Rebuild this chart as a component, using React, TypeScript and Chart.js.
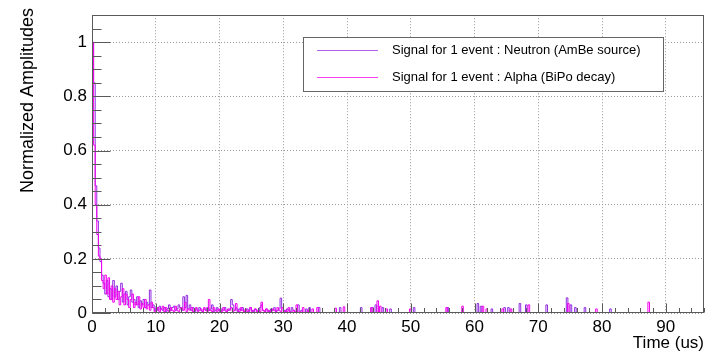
import { useEffect, useRef } from 'react';
import { Chart, registerables } from 'chart.js';

Chart.register(...registerables);

// ---- data ----
const BIN_US = 0.25; // sampling bin of the dense early part, microseconds

// Neutron (AmBe source), amplitudes for t = 0, 0.25, ... 35.75 us
const neutronEarly = [
  1.0, 0.85, 0.47, 0.34, 0.24, 0.19, 0.14, 0.11,
  0.07, 0.12, 0.06, 0.09, 0.05, 0.12, 0.06, 0.1,
  0.05, 0.08, 0.11, 0.04, 0.07, 0.08, 0.03, 0.06,
  0.085, 0.04, 0.05, 0.03, 0.06, 0.02, 0.045, 0.03,
  0.05, 0.02, 0.04, 0.03, 0.085, 0.02, 0.03, 0.01,
  0.02, 0.01, 0.025, 0.015, 0.01, 0.02, 0.005, 0.015,
  0.03, 0.01, 0.02, 0.025, 0.01, 0.015, 0.03, 0.02,
  0.01, 0.06, 0.02, 0.065, 0.015, 0.03, 0.01, 0.02,
  0.005, 0.015, 0.01, 0.02, 0.01, 0.005, 0.015, 0.01,
  0.02, 0.01, 0.015, 0.03, 0.005, 0.01, 0.02, 0.01,
  0.005, 0.015, 0.01, 0.02, 0.005, 0.01, 0.015, 0.05,
  0.03, 0.01, 0.02, 0.005, 0.015, 0.01, 0.02, 0.005,
  0.01, 0.015, 0.005, 0.02, 0.01, 0.005, 0.015, 0.01,
  0.005, 0.02, 0.03, 0.01, 0.005, 0.015, 0.01, 0.005,
  0.015, 0.01, 0.02, 0.005, 0.01, 0.015, 0.055, 0.02,
  0.01, 0.005, 0.015, 0.01, 0.005, 0.02, 0.01, 0,
  0.005, 0.03, 0, 0.01, 0, 0, 0.015, 0,
  0.02, 0, 0, 0, 0, 0, 0.02, 0,
];

// Alpha (BiPo decay), amplitudes for t = 0, 0.25, ... 35.75 us
const alphaEarly = [
  1.0, 0.62, 0.4, 0.29, 0.21, 0.2, 0.12, 0.09,
  0.14, 0.07, 0.13, 0.05, 0.1, 0.04, 0.09, 0.05,
  0.08, 0.03, 0.06, 0.09, 0.03, 0.07, 0.05, 0.02,
  0.05, 0.07, 0.02, 0.04, 0.03, 0.06, 0.015, 0.035,
  0.02, 0.05, 0.015, 0.03, 0.01, 0.04, 0.02, 0.005,
  0.01, 0.02, 0.005, 0.015, 0.025, 0.005, 0.02, 0.01,
  0.005, 0.02, 0.01, 0.005, 0.025, 0.01, 0.005, 0.015,
  0.02, 0.01, 0.04, 0.005, 0.015, 0.01, 0.02, 0.005,
  0.01, 0.02, 0.005, 0.01, 0.015, 0.005, 0.02, 0.01,
  0.005, 0.05, 0.01, 0.005, 0.02, 0.01, 0.005, 0.015,
  0.01, 0.005, 0.02, 0.01, 0.005, 0.015, 0.01, 0.02,
  0.005, 0.01, 0.035, 0.01, 0.005, 0.02, 0.01, 0.005,
  0.015, 0.005, 0.01, 0.02, 0.005, 0.01, 0.015, 0.005,
  0.01, 0.005, 0.04, 0.01, 0.005, 0.015, 0.005, 0.01,
  0.005, 0.015, 0.01, 0.005, 0.02, 0.01, 0.005, 0.02,
  0.005, 0.01, 0.005, 0.02, 0.005, 0, 0.01, 0.005,
  0.03, 0, 0.005, 0, 0.02, 0, 0, 0.01,
  0, 0, 0.015, 0, 0, 0.02, 0, 0,
];

// Isolated pulses on the flat tail (time in us, amplitude)
const neutronSpikeTimes = [38.8, 42.1, 43.9, 44.4, 45.5, 46.7, 50.4, 55.7, 60.4, 60.9, 62.6, 64.6, 65.2, 67.0, 68.0, 71.2, 74.4, 75.0, 75.7, 77.2, 81.2];
const neutronSpikeHeights = [0.02, 0.02, 0.02, 0.03, 0.02, 0.015, 0.02, 0.02, 0.035, 0.025, 0.015, 0.02, 0.02, 0.035, 0.03, 0.03, 0.056, 0.03, 0.02, 0.02, 0.015];
const alphaSpikeTimes = [38.1, 39.4, 43.7, 44.7, 45.1, 46.1, 49.8, 55.5, 58.0, 61.2, 61.8, 64.3, 65.6, 68.4, 74.6, 79.0, 87.2];
const alphaSpikeHeights = [0.018, 0.023, 0.02, 0.045, 0.025, 0.015, 0.015, 0.02, 0.025, 0.025, 0.015, 0.015, 0.015, 0.03, 0.035, 0.015, 0.04];

const TRACE_END_US = 88;

const X_MIN = 0;
const X_MAX = 96;
const Y_MIN = 0;
const Y_MAX = 1.1;

const xAxisTitle = 'Time (us)';
const yAxisTitle = 'Normalized Amplitudes';
const legendLabels = [
  'Signal for 1 event : Neutron (AmBe source)',
  'Signal for 1 event : Alpha (BiPo decay)',
];

const NEUTRON_COLOR = 'rgb(145, 45, 225)';
const ALPHA_COLOR = 'rgb(245, 0, 240)';
const FRAME_COLOR = '#5a5a5a';
const GRID_COLOR = '#9a9a9a';
const FONT = '"Liberation Sans", Arial, Helvetica, sans-serif';

function buildTrace(early: number[], spikeT: number[], spikeH: number[]) {
  const pts: { x: number; y: number }[] = early.map((y, i) => ({ x: i * BIN_US, y }));
  spikeT.forEach((t, k) => {
    pts.push({ x: t, y: spikeH[k] });
    pts.push({ x: t + BIN_US, y: 0 });
  });
  pts.push({ x: TRACE_END_US, y: 0 });
  return pts;
}

const rootStyle = {
  id: 'rootStyle',
  afterDraw(chart: any) {
    const { ctx, chartArea } = chart;
    const xs = chart.scales.x;
    const ys = chart.scales.y;
    const L = Math.round(chartArea.left) + 0.5;
    const R = Math.round(chartArea.right) - 0.5;
    const T = Math.round(chartArea.top) + 0.5;
    const B = Math.round(chartArea.bottom) - 0.5;
    ctx.save();
    ctx.strokeStyle = FRAME_COLOR;
    ctx.lineWidth = 1;
    ctx.setLineDash([]);
    ctx.strokeRect(L, T, R - L, B - T);

    // y ticks (inside, from the left edge)
    for (let k = 0; k * 0.05 <= Y_MAX + 1e-9; k++) {
      const v = k * 0.05;
      const py = Math.round(ys.getPixelForValue(v)) + 0.5;
      const len = k % 4 === 0 ? 18 : 9;
      ctx.beginPath();
      ctx.moveTo(L, py);
      ctx.lineTo(L + len, py);
      ctx.stroke();
    }
    // x ticks (inside, from the bottom edge)
    for (let k = 0; k * 2 <= X_MAX; k++) {
      const v = k * 2;
      const px = Math.round(xs.getPixelForValue(v)) + 0.5;
      const len = k % 5 === 0 ? 9 : 4.5;
      ctx.beginPath();
      ctx.moveTo(px, B);
      ctx.lineTo(px, B - len);
      ctx.stroke();
    }

    // axis titles
    ctx.fillStyle = '#000';
    ctx.font = `17px ${FONT}`;
    ctx.textAlign = 'right';
    ctx.textBaseline = 'alphabetic';
    ctx.fillText(xAxisTitle, Math.round(chartArea.right), 348);

    ctx.save();
    ctx.translate(33, 8);
    ctx.rotate(-Math.PI / 2);
    ctx.font = `18px ${FONT}`;
    ctx.textAlign = 'right';
    ctx.fillText(yAxisTitle, 0, 0);
    ctx.restore();

    // legend
    const bx = 303.5, by = 37.5, bw = 360, bh = 54;
    ctx.fillStyle = '#fff';
    ctx.fillRect(bx, by, bw, bh);
    ctx.strokeStyle = '#666';
    ctx.strokeRect(bx, by, bw, bh);
    const rows = [50.5, 77.5];
    const cols = [NEUTRON_COLOR, ALPHA_COLOR];
    ctx.font = `13px ${FONT}`;
    ctx.textAlign = 'left';
    ctx.textBaseline = 'middle';
    rows.forEach((ry, i) => {
      ctx.strokeStyle = cols[i];
      ctx.globalAlpha = 0.75;
      ctx.beginPath();
      ctx.moveTo(317, ry);
      ctx.lineTo(378, ry);
      ctx.stroke();
      ctx.globalAlpha = 1;
      ctx.fillStyle = '#000';
      ctx.fillText(legendLabels[i], 392, ry);
    });
    ctx.restore();
  },
};

export default function App() {
  const canvasRef = useRef<HTMLCanvasElement | null>(null);

  useEffect(() => {
    if (!canvasRef.current) return;
    const chart = new Chart(canvasRef.current, {
      type: 'line',
      data: {
        datasets: [
          {
            label: legendLabels[0],
            data: buildTrace(neutronEarly, neutronSpikeTimes, neutronSpikeHeights),
            borderColor: NEUTRON_COLOR,
            borderWidth: 1,
            pointRadius: 0,
            stepped: true,
            fill: false,
            order: 1,
          },
          {
            label: legendLabels[1],
            data: buildTrace(alphaEarly, alphaSpikeTimes, alphaSpikeHeights),
            borderColor: ALPHA_COLOR,
            borderWidth: 1,
            pointRadius: 0,
            stepped: true,
            fill: false,
            order: 0,
          },
        ],
      },
      options: {
        animation: false,
        responsive: true,
        maintainAspectRatio: false,
        parsing: false as any,
        normalized: true,
        layout: { padding: { top: 9, right: 3, left: 0, bottom: 0 }, autoPadding: false } as any,
        plugins: {
          legend: { display: false },
          tooltip: { enabled: false },
        },
        scales: {
          x: {
            type: 'linear',
            min: X_MIN,
            max: X_MAX,
            afterFit: (s: any) => {
              s.height = 42;
            },
            border: { display: false, dash: [1, 2] },
            grid: { color: GRID_COLOR, drawTicks: false, lineWidth: 1 },
            ticks: {
              stepSize: 10,
              includeBounds: false,
              autoSkip: false,
              maxRotation: 0,
              padding: 4,
              color: '#000',
              font: { family: FONT, size: 17 },
              callback: (v: any) => String(v),
            } as any,
          },
          y: {
            type: 'linear',
            min: Y_MIN,
            max: Y_MAX,
            afterFit: (s: any) => {
              s.width = 92;
            },
            border: { display: false, dash: [1, 2] },
            grid: { color: GRID_COLOR, drawTicks: false, lineWidth: 1 },
            ticks: {
              stepSize: 0.2,
              includeBounds: false,
              autoSkip: false,
              padding: 5,
              color: '#000',
              font: { family: FONT, size: 17 },
              callback: (v: any) => Number(v).toFixed(1).replace(/\.0$/, ''),
            } as any,
          },
        },
      },
      plugins: [rootStyle],
    });
    return () => chart.destroy();
  }, []);

  return (
    <div style={{ position: 'fixed', left: 0, top: 0, width: 707, height: 355, background: '#fff' }}>
      <canvas ref={canvasRef} />
    </div>
  );
}
